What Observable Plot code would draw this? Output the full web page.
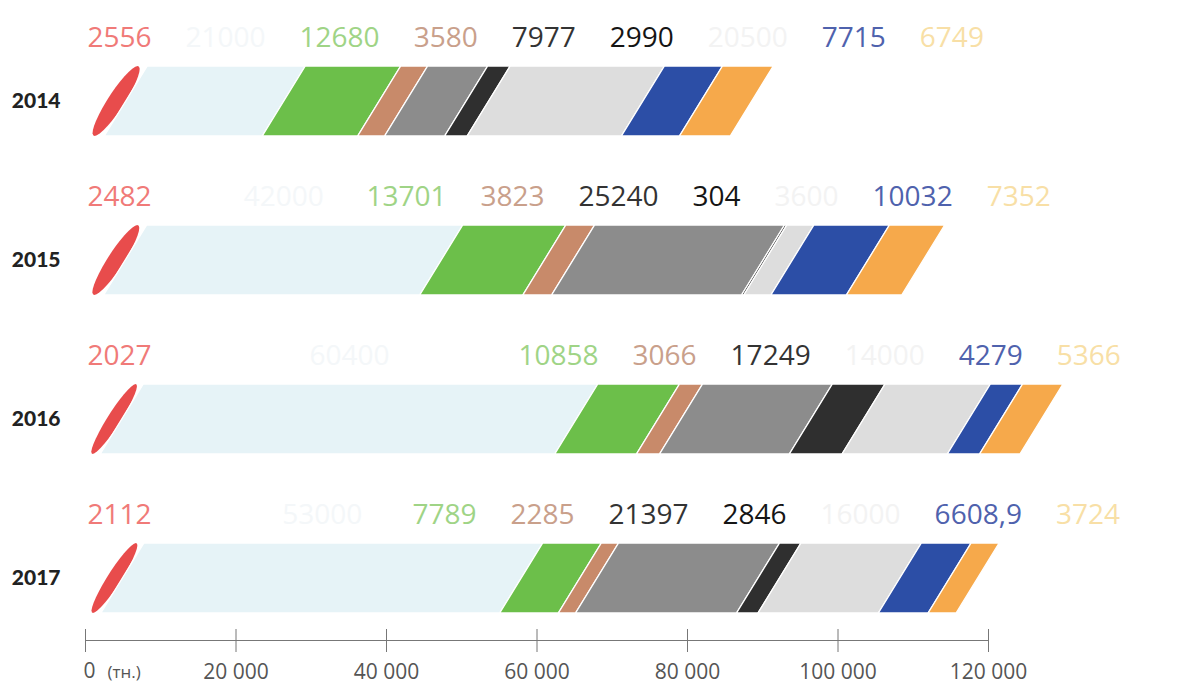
<!DOCTYPE html>
<html><head><meta charset="utf-8">
<script src="https://cdn.jsdelivr.net/npm/d3@7"></script>
<script src="https://cdn.jsdelivr.net/npm/@observablehq/plot@0.6"></script>
<style>body{margin:0;background:#fff;}</style>
</head><body><div id="chart"></div>
<script>
// ---- data ----
const years = ["2014", "2015", "2016", "2017"];
const categories = ["red", "lightblue", "green", "tan", "gray", "black", "lightgray", "blue", "orange"];
const values2014 = [2556, 21000, 12680, 3580, 7977, 2990, 20500, 7715, 6749];
const values2015 = [2482, 42000, 13701, 3823, 25240, 304, 3600, 10032, 7352];
const values2016 = [2027, 60400, 10858, 3066, 17249, 7000, 14000, 4279, 5366];
const values2017 = [2112, 53000, 7789, 2285, 21397, 2846, 16000, 6608.9, 3724];
const unlabeled = [["2016", "black"]];
const xTicks = [0, 20000, 40000, 60000, 80000, 100000, 120000];
const zeroLabel = "0";
const unitLabel = "(тн.)";
const segmentColors = ["#e84c4c", "#e6f3f7", "#6cbf4a", "#c88a6a", "#8c8c8c", "#2f2f2f", "#dddddd", "#2c4ea6", "#f6a94b"];
const labelColors = ["#f07a78", "#f4f7f9", "#9fd486", "#c9a08b", "#333333", "#151515", "#f3f3f3", "#4f62ad", "#f8dfa6"];

// ---- layout ----
const W = 1180, H = 690, ML = 85, MR = 192, MB = 50;
const XMAX = 120000, SLANT = 43, BAR_H = 70, GAP = 34, LABEL_FS = 28;
const px = v => ML + v / XMAX * (W - ML - MR);
const fromPx = p => (p - ML) / (W - ML - MR) * XMAX;

const byYear = {"2014": values2014, "2015": values2015, "2016": values2016, "2017": values2017};
const fmt = v => Number.isInteger(v) ? String(v) : String(v).replace(".", ",");

const ctx = document.createElement("canvas").getContext("2d");
ctx.font = `400 ${LABEL_FS}px "Open Sans"`;
const measure = s => ctx.measureText(s).width;

const rows = [];
const labelRows = [];
for (const year of years) {
  let acc = 0;
  const yr = [];
  byYear[year].forEach((v, i) => {
    const r = {year, cat: categories[i], value: v, x1: acc, x2: acc + v, color: segmentColors[i], lcolor: labelColors[i]};
    acc += v;
    rows.push(r); yr.push(r);
  });
  // label layout: cluster-based dodge, first label pinned at left
  const items = yr.filter(r => !unlabeled.some(([y, c]) => y === year && c === r.cat)).map(r => {
    const label = fmt(r.value), w = measure(label);
    return {r, label, w, d: px((r.x1 + r.x2) / 2) + SLANT / 2};
  });
  let clusters = items.map((it, k) => ({items: [it], pinned: k === 0}));
  const place = cl => {
    const offs = []; let o = 0;
    cl.items.forEach((it, k) => { if (k > 0) o += cl.items[k - 1].w / 2 + GAP + it.w / 2; offs.push(o); });
    let c0 = cl.pinned ? ML + 2 + cl.items[0].w / 2 : d3.mean(cl.items, (it, k) => it.d - offs[k]);
    if (c0 - cl.items[0].w / 2 < ML) c0 = ML + cl.items[0].w / 2;
    cl.items.forEach((it, k) => it.c = c0 + offs[k]);
    cl.start = c0 - cl.items[0].w / 2;
    const last = cl.items[cl.items.length - 1];
    cl.end = last.c + last.w / 2;
  };
  clusters.forEach(place);
  let merged = true;
  while (merged) {
    merged = false;
    for (let i = 1; i < clusters.length; i++) {
      if (clusters[i - 1].end + GAP > clusters[i].start) {
        const m = {items: clusters[i - 1].items.concat(clusters[i].items), pinned: clusters[i - 1].pinned || clusters[i].pinned};
        place(m);
        clusters.splice(i - 1, 2, m);
        merged = true; break;
      }
    }
  }
  items.forEach(it => labelRows.push({year, label: it.label, x: fromPx(it.c), color: it.r.lcolor}));
}

const chart = Plot.plot({
  width: W, height: H,
  marginLeft: ML, marginRight: MR, marginTop: 10, marginBottom: MB,
  x: {domain: [0, XMAX]},
  y: {domain: years, range: [65, 613], paddingInner: 0.5607, paddingOuter: 0},
  color: {type: "identity"},
  style: {fontFamily: "'Open Sans', sans-serif", background: "#fff", overflow: "visible"},
  marks: [
    Plot.barX(rows, {x1: "x1", x2: "x2", y: "year", fill: "color", stroke: "#fff", strokeWidth: 1.5}),
    Plot.text(labelRows, {x: "x", y: "year", text: "label", fill: "color", fontSize: LABEL_FS, dy: -63}),
    Plot.axisY({tickSize: 0, tickPadding: 25, fontSize: 21, fontWeight: 900, fontFamily: "Lato", fill: "#222", stroke: "#222", strokeWidth: 0.7, label: null}),
    Plot.frame({anchor: "bottom", stroke: "#777"}),
    Plot.axisX({ticks: xTicks, tickFormat: d => d === 0 ? "" : d3.format(",")(d).replace(/,/g, " "), tickSize: 23, dy: -11, tickPadding: 12, fontSize: 21, stroke: "#777", fill: "#555", label: null}),
    Plot.text([xTicks[0]], {x: d => d, frameAnchor: "bottom", lineAnchor: "middle", text: () => zeroLabel, textAnchor: "start", dx: -2, dy: 31, fontSize: 21, fill: "#555"}),
    Plot.text([xTicks[0]], {x: d => d, frameAnchor: "bottom", lineAnchor: "middle", text: () => unitLabel, textAnchor: "start", dx: 22, dy: 32, fontSize: 17, fill: "#555"})
  ]
});

// slant the bars into parallelograms; make the first segment an ellipse
const ang = -Math.atan(SLANT / BAR_H) * 180 / Math.PI;
chart.querySelectorAll('g[aria-label="bar"] rect').forEach(rect => {
  const y = +rect.getAttribute("y"), h = +rect.getAttribute("height"), yb = y + h;
  rect.setAttribute("transform", `translate(0,${yb}) skewX(${ang}) translate(0,${-yb})`);
  if (rect.getAttribute("fill") === segmentColors[0]) {
    const w = +rect.getAttribute("width");
    rect.setAttribute("rx", w / 2); rect.setAttribute("ry", h / 2);
    rect.setAttribute("stroke", "none");
  }
});
document.getElementById("chart").appendChild(chart);
</script>
</body></html>
